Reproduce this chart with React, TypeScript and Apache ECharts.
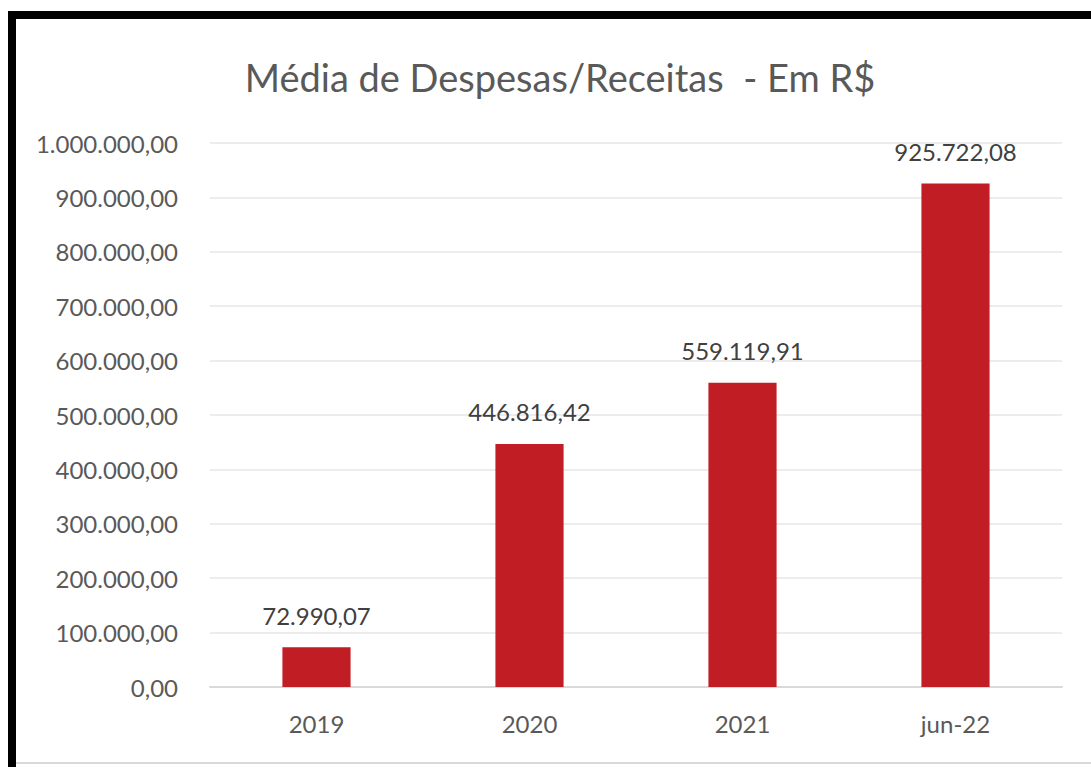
import React, { useEffect, useRef } from "react";
import * as echarts from "echarts";

const categories = ["2019", "2020", "2021", "jun-22"];
const values = [72990.07, 446816.42, 559119.91, 925722.08];
const yMin = 0;
const yMax = 1000000;
const yStep = 100000;
const titleText = "Média de Despesas/Receitas  - Em R$";

const FONT = "Lato, 'Open Sans', sans-serif";

function fmt(v: number): string {
  const fixed = v.toFixed(2);
  const [intPart, dec] = fixed.split(".");
  const withDots = intPart.replace(/\B(?=(\d{3})+(?!\d))/g, ".");
  return withDots + "," + dec;
}

export default function App() {
  const ref = useRef<HTMLDivElement>(null);
  useEffect(() => {
    if (!ref.current) return;
    const chart = echarts.init(ref.current, undefined, { renderer: "svg" });
    chart.setOption({
      animation: false,
      backgroundColor: "#ffffff",
      title: {
        text: titleText,
        left: 555,
        textAlign: "center",
        top: 53,
        textStyle: { fontFamily: FONT, fontSize: 38, fontWeight: "normal", color: "#595959" },
      },
      grid: { left: 210, right: 29, top: 143, bottom: 80, containLabel: false },
      xAxis: {
        type: "category",
        data: categories,
        axisLine: { lineStyle: { color: "#d9d9d9", width: 2 } },
        axisTick: { show: false },
        axisLabel: { color: "#595959", fontFamily: FONT, fontSize: 24, margin: 24 },
      },
      yAxis: {
        type: "value",
        min: yMin,
        max: yMax,
        interval: yStep,
        axisLine: { show: false },
        axisTick: { show: false },
        splitLine: { lineStyle: { color: "#e6e6e6", width: 1.5 } },
        axisLabel: {
          color: "#595959",
          fontFamily: FONT,
          fontSize: 24,
          margin: 32,
          formatter: (v: number) => fmt(v),
        },
      },
      series: [
        {
          type: "bar",
          data: values,
          barWidth: "32%",
          itemStyle: { color: "#C01D24" },
          label: {
            show: true,
            position: "top",
            distance: 20,
            color: "#404040",
            fontFamily: FONT,
            fontSize: 24,
            formatter: (p: any) => fmt(p.value),
          },
        },
      ],
      graphic: [
        { type: "rect", shape: { x: 8, y: 11, width: 1083, height: 8 }, style: { fill: "#000000" } },
        { type: "rect", shape: { x: 8, y: 11, width: 8, height: 756 }, style: { fill: "#000000" } },
        { type: "rect", shape: { x: 16, y: 762, width: 1075, height: 2 }, style: { fill: "#d9d9d9" } },
      ],
    });
    return () => chart.dispose();
  }, []);
  return (
    <div
      ref={ref}
      style={{ position: "fixed", left: 0, top: 0, width: 1091, height: 767 }}
    />
  );
}
